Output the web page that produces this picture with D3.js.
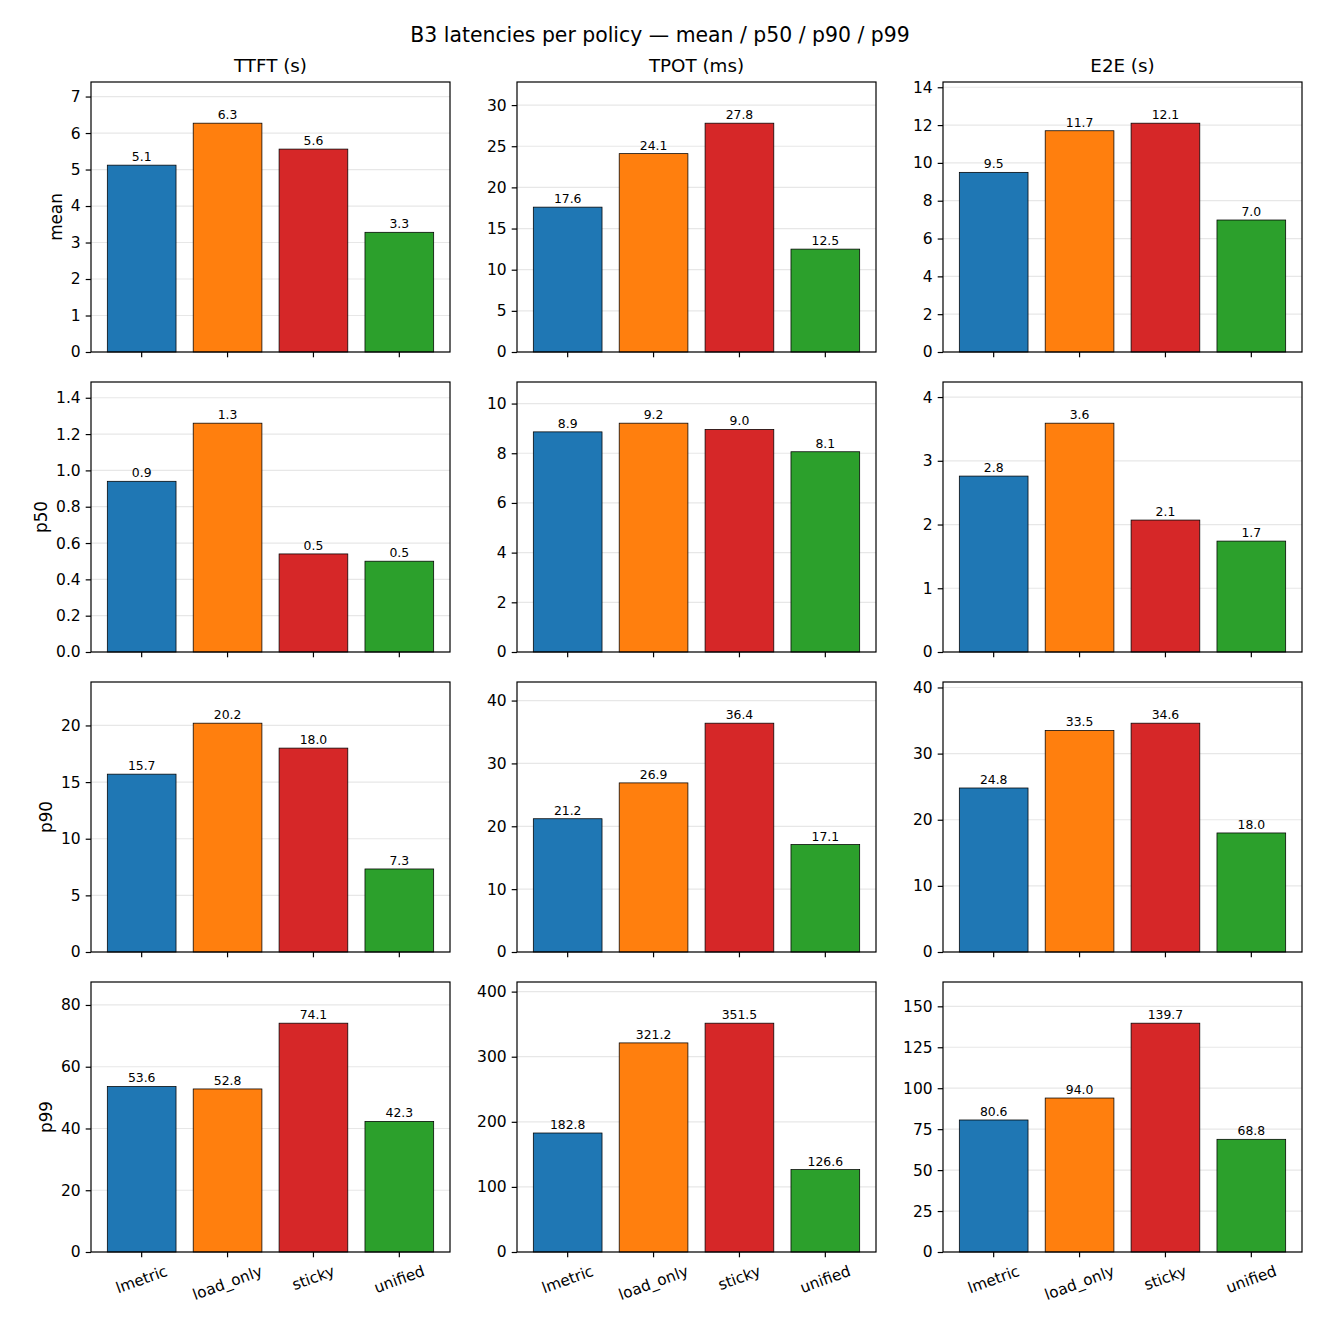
<!DOCTYPE html>
<html>
<head>
<meta charset="utf-8">
<script src="https://cdn.jsdelivr.net/npm/d3@7"></script>
<style>
  body { margin: 0; background: #fff; }
  svg { font-family: "DejaVu Sans", sans-serif; }
</style>
</head>
<body>
<div id="chart"></div>
<script>
// policies and colours
const policies = ["lmetric", "load_only", "sticky", "unified"];
const policyColors = ["#1f77b4", "#ff7f0e", "#d62728", "#2ca02c"];

const metrics = ["TTFT (s)", "TPOT (ms)", "E2E (s)"];
const stats = ["mean", "p50", "p90", "p99"];

// values per stat, one row per metric (TTFT, TPOT, E2E), columns follow policies
const meanValues = [
    [5.12, 6.27, 5.56, 3.28],
    [17.6, 24.1, 27.8, 12.5],
    [9.5, 11.7, 12.1, 6.98]
];
const p50Values = [
    [0.94, 1.26, 0.54, 0.50],
    [8.86, 9.21, 8.96, 8.06],
    [2.76, 3.59, 2.07, 1.74]
];
const p90Values = [
    [15.7, 20.2, 18.0, 7.33],
    [21.2, 26.9, 36.4, 17.1],
    [24.8, 33.5, 34.6, 18.0]
];
const p99Values = [
    [53.6, 52.8, 74.1, 42.3],
    [182.8, 321.2, 351.5, 126.6],
    [80.6, 94.0, 139.7, 68.8]
];

// y tick labels per panel
const meanTicks = [[0, 1, 2, 3, 4, 5, 6, 7], [0, 5, 10, 15, 20, 25, 30], [0, 2, 4, 6, 8, 10, 12, 14]];
const p50Ticks = [[0, 0.2, 0.4, 0.6, 0.8, 1.0, 1.2, 1.4], [0, 2, 4, 6, 8, 10], [0, 1, 2, 3, 4]];
const p90Ticks = [[0, 5, 10, 15, 20], [0, 10, 20, 30, 40], [0, 10, 20, 30, 40]];
const p99Ticks = [[0, 20, 40, 60, 80], [0, 100, 200, 300, 400], [0, 25, 50, 75, 100, 125, 150]];

const allValues = [meanValues, p50Values, p90Values, p99Values];
const allTicks = [meanTicks, p50Ticks, p90Ticks, p99Ticks];

// layout
const W = 1320, H = 1320;
const colLeft = [91, 517, 943];
const rowTop = [82, 382, 682, 982];
const axW = 359, axH = 270;

const svg = d3.select("#chart").append("svg")
    .attr("width", W)
    .attr("height", H);

svg.append("text")
    .attr("x", 660)
    .attr("y", 42)
    .attr("text-anchor", "middle")
    .style("font-size", "20.4px")
    .attr("fill", "#000")
    .text("B3 latencies per policy \u2014 mean / p50 / p90 / p99");

stats.forEach((stat, r) => {
    metrics.forEach((metric, c) => {
        const values = allValues[r][c];
        const ticks = allTicks[r][c];

        const g = svg.append("g")
            .attr("transform", `translate(${colLeft[c]},${rowTop[r]})`);

        // x scale like matplotlib: bars of width 0.8 with 5% margins
        const x = d3.scaleLinear().domain([-0.59, 3.59]).range([0, axW]);
        const y = d3.scaleLinear().domain([0, d3.max(values) * 1.18]).range([axH, 0]);

        // grid
        g.selectAll(".grid")
            .data(ticks)
            .join("line")
            .attr("x1", 0).attr("x2", axW)
            .attr("y1", d => y(d)).attr("y2", d => y(d))
            .attr("stroke", "#b0b0b0")
            .attr("stroke-opacity", 0.3)
            .attr("stroke-width", 1.2);

        // bars
        g.selectAll(".bar")
            .data(values)
            .join("rect")
            .attr("x", (d, i) => x(i - 0.4))
            .attr("width", x(0.8) - x(0))
            .attr("y", d => y(d))
            .attr("height", d => axH - y(d))
            .attr("fill", (d, i) => policyColors[i])
            .attr("stroke", "#000")
            .attr("stroke-width", 0.75);

        // bar labels
        g.selectAll(".lbl")
            .data(values)
            .join("text")
            .attr("x", (d, i) => x(i))
            .attr("y", d => y(d) - 4)
            .attr("text-anchor", "middle")
            .style("font-size", "12.4px")
            .attr("fill", "#000")
            .text(d => d.toFixed(1));

        // y axis
        const fmt = (r === 1 && c === 0) ? d3.format(".1f") : d3.format("d");
        const yAxis = d3.axisLeft(y)
            .tickValues(ticks)
            .tickFormat(fmt)
            .tickSize(5.3)
            .tickPadding(5);
        const ya = g.append("g").call(yAxis);
        ya.select(".domain").remove();
        ya.selectAll("line").attr("stroke", "#000").attr("stroke-width", 1.2);
        ya.selectAll("text").style("font-size", "15.5px").attr("fill", "#000")
            .style("font-family", "DejaVu Sans");

        // x ticks
        const xa = g.append("g").attr("transform", `translate(0,${axH})`);
        xa.selectAll("line")
            .data(policies)
            .join("line")
            .attr("x1", (d, i) => x(i)).attr("x2", (d, i) => x(i))
            .attr("y1", 0).attr("y2", 5.3)
            .attr("stroke", "#000")
            .attr("stroke-width", 1.2);

        if (r === stats.length - 1) {
            xa.selectAll("text")
                .data(policies)
                .join("text")
                .attr("text-anchor", "middle")
                .attr("dominant-baseline", "central")
                .style("font-size", "15.3px")
                .attr("fill", "#000")
                .text(d => d)
                .each(function(d, i) {
                    const w = this.getComputedTextLength();
                    const h = 15.3 * 1.15;
                    const a = 20 * Math.PI / 180;
                    const half = (w * Math.sin(a) + h * Math.cos(a)) / 2;
                    const cy = 5.3 + 5 + half;
                    d3.select(this)
                        .attr("transform", `translate(${x(i)},${cy}) rotate(-20)`);
                });
        }

        // frame
        g.append("rect")
            .attr("width", axW)
            .attr("height", axH)
            .attr("fill", "none")
            .attr("stroke", "#000")
            .attr("stroke-width", 1.2);

        // column titles
        if (r === 0) {
            g.append("text")
                .attr("x", axW / 2)
                .attr("y", -10)
                .attr("text-anchor", "middle")
                .style("font-size", "18.3px")
                .attr("fill", "#000")
                .text(metric);
        }

        // row labels, placed left of the widest tick label
        if (c === 0) {
            const left = ya.node().getBBox().x;
            g.append("text")
                .attr("transform", `translate(${left - 9},${axH / 2}) rotate(-90)`)
                .attr("text-anchor", "middle")
                .style("font-size", "16.8px")
                .attr("fill", "#000")
                .text(stat);
        }
    });
});
</script>
</body>
</html>
